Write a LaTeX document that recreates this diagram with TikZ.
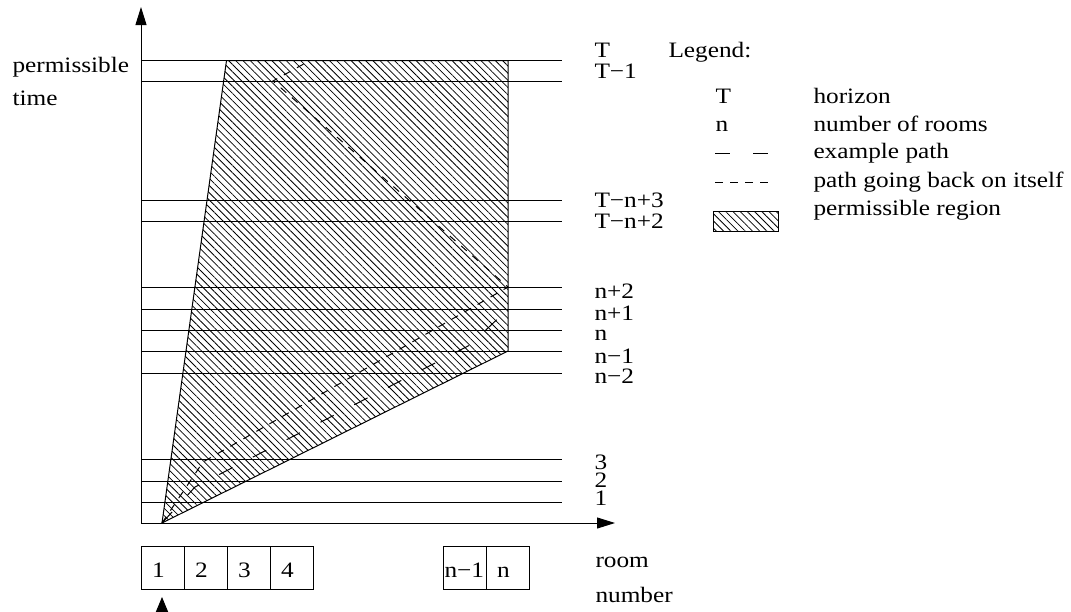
\documentclass[tikz,border=0pt]{standalone}
\usepackage{fontspec}
\setmainfont[FakeStretch=1.15]{Liberation Serif}
\usetikzlibrary{arrows.meta,patterns.meta}

\begin{document}
\begin{tikzpicture}[x=0.5pt,y=-0.5pt,line width=0.5pt,
    >={Triangle[length=9pt,width=5.5pt]},
    font=\fontsize{11pt}{14pt}\selectfont,
    lbl/.style={anchor=base west,inner sep=0pt},
    hatch/.style={pattern={Lines[angle=-45,distance=2.55pt,line width=0.4pt]}},
    longdash/.style={dash pattern=on 7.5pt off 11.5pt},
    shortdash/.style={dash pattern=on 3.75pt off 3.75pt},
    room/.style={draw,outer sep=0pt,minimum height=21.5pt,inner ysep=0pt,
      inner xsep=5.5pt,text width=10.5pt,align=left,
      text height=9.5pt,text depth=0pt}]
  \useasboundingbox (0,0) rectangle (1071,611);

  % axes
  \coordinate (O) at (141,523);
  \coordinate (Ytip) at (141,7);
  \coordinate (Xtip) at (615,523);
  \draw[->] (O) -- (Ytip);
  \draw[->] (O) -- (Xtip);
  \node[lbl] (ylab1) at (12,72) {permissible};
  \node[lbl] (ylab2) at (12,105) {time};

  % time steps: line height / label / label baseline
  \foreach \y/\t/\b [count=\i] in {60.5/T/57, 81.5/T\textminus1/78,
      200/T\textminus n+3/207, 221/T\textminus n+2/228,
      287/n+2/298, 309/n+1/320, 330/n/340, 351/n\textminus1/363,
      373/n\textminus2/383, 459/3/469, 481/2/487, 502/1/505} {
    \draw (141,\y) -- (562,\y);
    \node[lbl] (t\i) at (594,\b) {\t};
  }

  % permissible region
  \coordinate (S) at (162,523);
  \coordinate (L) at (226.5,60.5);
  \coordinate (R) at (508,60.5);
  \coordinate (N) at (508,351);
  \draw[hatch] (S) -- (L) -- (R) -- (N) -- cycle;

  % example path and the one that turns back
  \coordinate (A1) at (195,487);
  \coordinate (A2) at (470,345);
  \coordinate (A3) at (508,309);
  \draw[longdash] (S) -- (A1) -- (A2) -- (A3);
  \coordinate (B1) at (203,462);
  \coordinate (B2) at (508,287);
  \coordinate (B3) at (273,81);
  \coordinate (B4) at (310,60.5);
  \draw[shortdash] (S) -- (B1) -- (B2) -- (B3) -- (B4);

  % rooms
  \node[room] (r1) at (162.5,567.5) {1};
  \node[room,anchor=west] (r2) at (r1.east) {2};
  \node[room,anchor=west] (r3) at (r2.east) {3};
  \node[room,anchor=west] (r4) at (r3.east) {4};
  \node[room,inner xsep=0.75pt,text width=20pt] (rm) at (464.5,567.5) {n\textminus1};
  \node[room,anchor=west] (rn) at (rm.east) {n};
  \node[lbl] (xlab1) at (595,567) {room};
  \node[lbl] (xlab2) at (595,602) {number};
  \coordinate (P0) at (162,615);
  \coordinate (P1) at (162,597);
  \draw[-{Triangle[length=8pt,width=6.5pt]}] (P0) -- (P1);

  % legend
  \node[lbl] (leg) at (668,57) {Legend:};
  \node[lbl] (kT) at (715,103) {T};
  \node[lbl] (dT) at (813,103) {horizon};
  \node[lbl] (kn) at (715,131) {n};
  \node[lbl] (dn) at (813,131) {number of rooms};
  \coordinate (ka1) at (715,153);
  \coordinate (ka2) at (768,153);
  \draw[longdash] (ka1) -- (ka2);
  \node[lbl] (da) at (813,158) {example path};
  \coordinate (kb1) at (715,182);
  \coordinate (kb2) at (768,182);
  \draw[shortdash] (kb1) -- (kb2);
  \node[lbl] (db) at (813,187) {path going back on itself};
  \draw[hatch] (713,211) rectangle (778,231);
  \node[lbl] (dr) at (813,215) {permissible region};
\end{tikzpicture}
\end{document}
